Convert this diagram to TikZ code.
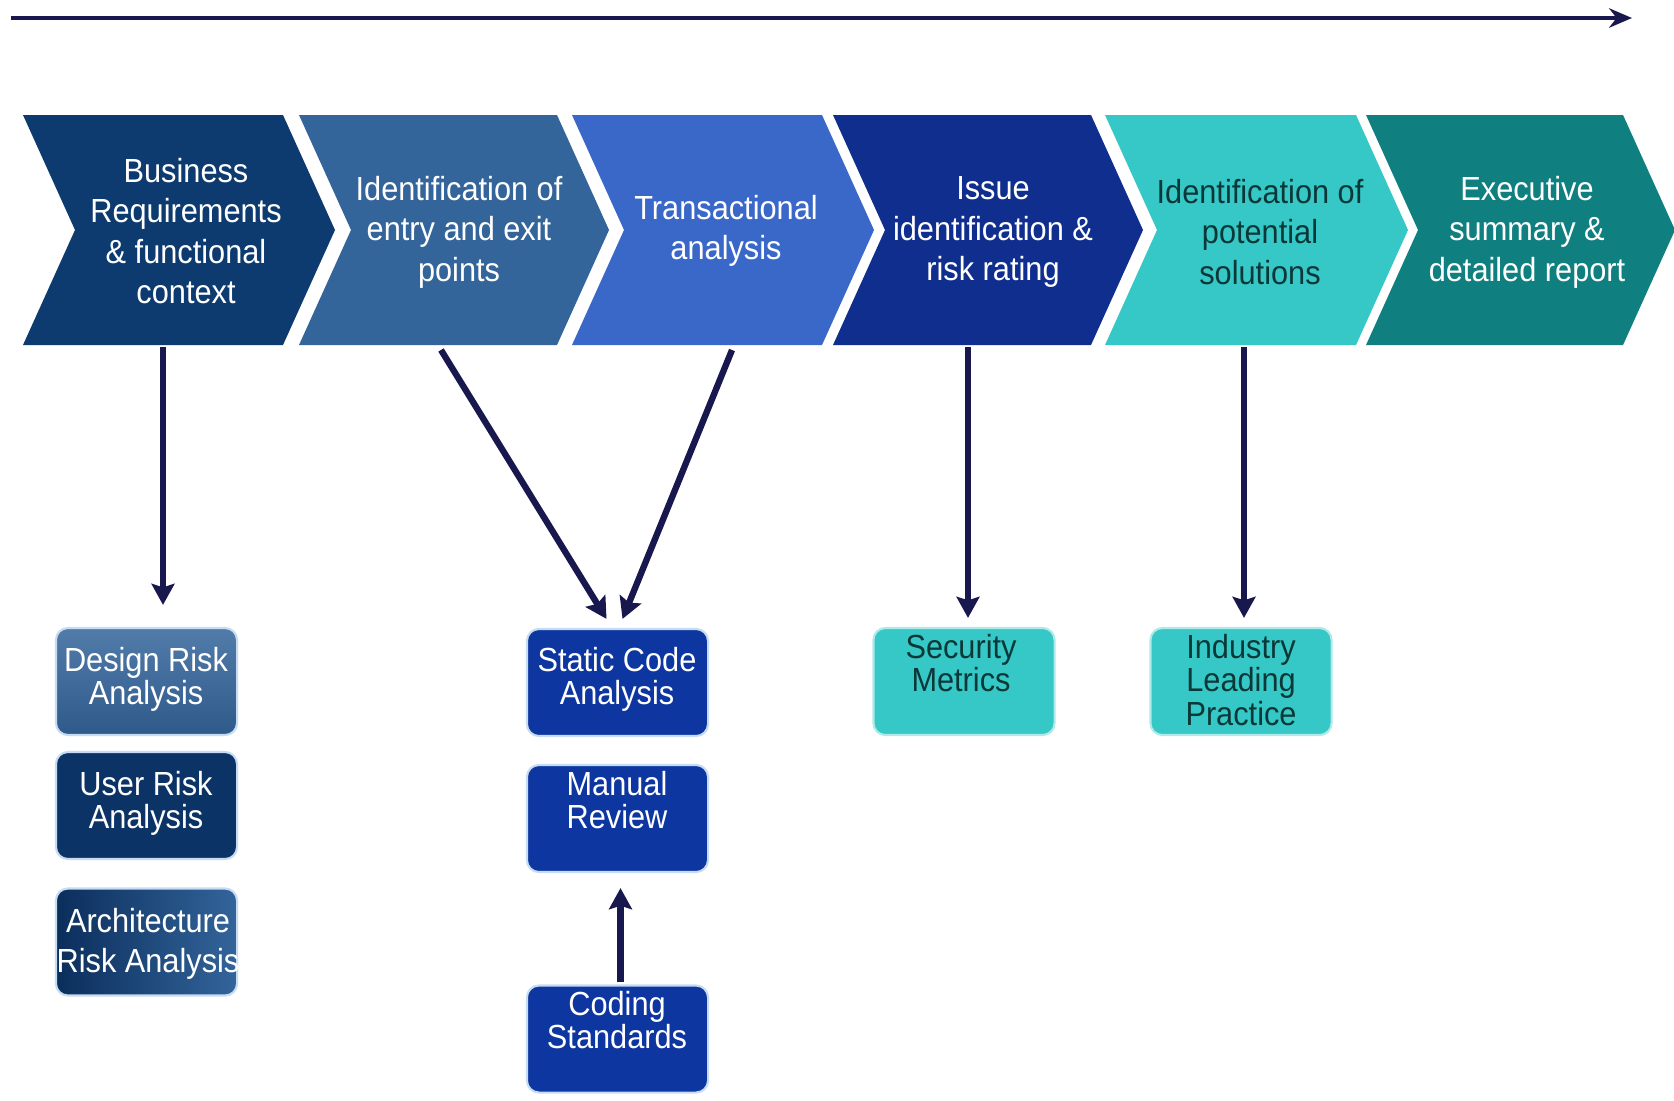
\documentclass[tikz,border=0pt]{standalone}
\usepackage{fontspec}
\setmainfont[FakeStretch=0.92]{Liberation Sans}
\usetikzlibrary{arrows.meta,calc}

\definecolor{navy}{HTML}{0D3B70}
\definecolor{steel}{HTML}{33649A}
\definecolor{brightblue}{HTML}{3A68C8}
\definecolor{royal}{HTML}{0F2E8E}
\definecolor{turq}{HTML}{36C8C6}
\definecolor{teal}{HTML}{107F80}
\definecolor{boxroyal}{HTML}{0D36A0}
\definecolor{boxnavy}{HTML}{0C3366}
\definecolor{arrowcol}{HTML}{18184F}
\definecolor{darktxt}{HTML}{0A3838}
\definecolor{glow}{HTML}{C6DCF2}

% one chevron of the process band: #1 = left x, #2 = body width, #3 = fill colour
\newcommand{\mychev}[3]{%
  \fill[#3] (#1,115) -- ++(#2,0) -- ++(52,115) -- ++(-52,115) -- ++(-#2,0)
    -- ++(52,-115) -- cycle;}

\tikzset{
  chevtext/.style={text=white, align=center, inner sep=0pt,
    font=\fontsize{9.5}{11.5}\selectfont},
  boxbase/.style={rounded corners=0.12cm, minimum width=1.81cm,
    minimum height=1.07cm, inner sep=0pt, draw=glow, line width=0.6pt},
  boxtext/.style={text=white, align=center, inner sep=0pt,
    font=\fontsize{9.5}{9.4}\selectfont},
  arr/.style={draw=arrowcol, line width=1.8pt,
    -{Stealth[length=6pt,width=6.5pt,inset=1pt]}},
}

\begin{document}
\begin{tikzpicture}[x=0.01cm, y=-0.01cm]
\useasboundingbox[fill=white] (0,0) rectangle (1674,1100);

% timeline arrow
\coordinate (tl) at (11,18);
\coordinate (tr) at (1632,18);
\draw[draw=arrowcol, line width=1.2pt, -{Stealth[length=6.5pt,width=5.5pt]}] (tl) -- (tr);

% process chevrons
\mychev{23}{260}{navy}
\mychev{299}{258}{steel}
\mychev{572}{250}{brightblue}
\mychev{833}{258}{royal}
\mychev{1105}{251}{turq}
\mychev{1366}{257}{teal}

\node[chevtext] (c1) at (186,231) {Business\\Requirements\\\& functional\\context};
\node[chevtext] (c2) at (459,232) {Identification of\\entry and exit\\points};
\node[chevtext] (c3) at (726,231) {Transactional\\analysis};
\node[chevtext] (c4) at (993,232) {Issue\\identification \&\\risk rating};
\node[chevtext, text=darktxt] (c5) at (1260,232) {Identification of\\potential\\solutions};
\node[chevtext] (c6) at (1527,232) {Executive\\summary \&\\detailed report};

% activity boxes
\node[boxbase, top color=steel!85!white, bottom color=steel!90!black] (dra) at (146.5,681.5) {};
\node[boxbase, fill=boxnavy] (ura) at (146.5,805.5) {};
\node[boxbase, left color=boxnavy!90!black, right color=steel] (ara) at (146.5,942) {};
\node[boxbase, fill=boxroyal] (sca) at (617.5,682.5) {};
\node[boxbase, fill=boxroyal] (mr) at (617.5,818.5) {};
\node[boxbase, fill=boxroyal] (cs) at (617.5,1039) {};
\node[boxbase, fill=turq, draw=turq!40!white] (sm) at (964,681.5) {};
\node[boxbase, fill=turq, draw=turq!40!white] (ilp) at (1241,681.5) {};

\node[boxtext] (dra-t) at (146,679) {Design Risk\\Analysis};
\node[boxtext] (ura-t) at (146,803) {User Risk\\Analysis};
\node[boxtext, font=\fontsize{9.5}{11.2}\selectfont] (ara-t) at (148,944) {Architecture\\Risk Analysis};
\node[boxtext] (sca-t) at (617,679) {Static Code\\Analysis};
\node[boxtext] (mr-t) at (617,800) {Manual\\Review};
\node[boxtext] (cs-t) at (617,1020) {Coding\\Standards};
\node[boxtext, text=darktxt] (sm-t) at (961,663) {Security\\Metrics};
\node[boxtext, text=darktxt] (ilp-t) at (1241,680) {Industry\\Leading\\Practice};

% connectors from the phases to their activities
\coordinate (c1s) at (163,347);
\coordinate (c2s) at (441,350);
\coordinate (c3s) at (732,350);
\coordinate (c4s) at (968,347);
\coordinate (c5s) at (1244,347);

\draw[arr] (c1s) -- ($(c1s |- dra.north)+(0,-22)$);
\draw[arr] (c2s) -- ($(sca.north)+(-11,-9)$);
\draw[arr] (c3s) -- ($(sca.north)+(5,-9)$);
\draw[arr] (c4s) -- ($(c4s |- sm.north)+(0,-9)$);
\draw[arr] (c5s) -- ($(c5s |- ilp.north)+(0,-9)$);
\draw[arr] ($(cs.north)+(3,-2)$) -- ($(mr.south)+(3,15)$);
\end{tikzpicture}
\end{document}
